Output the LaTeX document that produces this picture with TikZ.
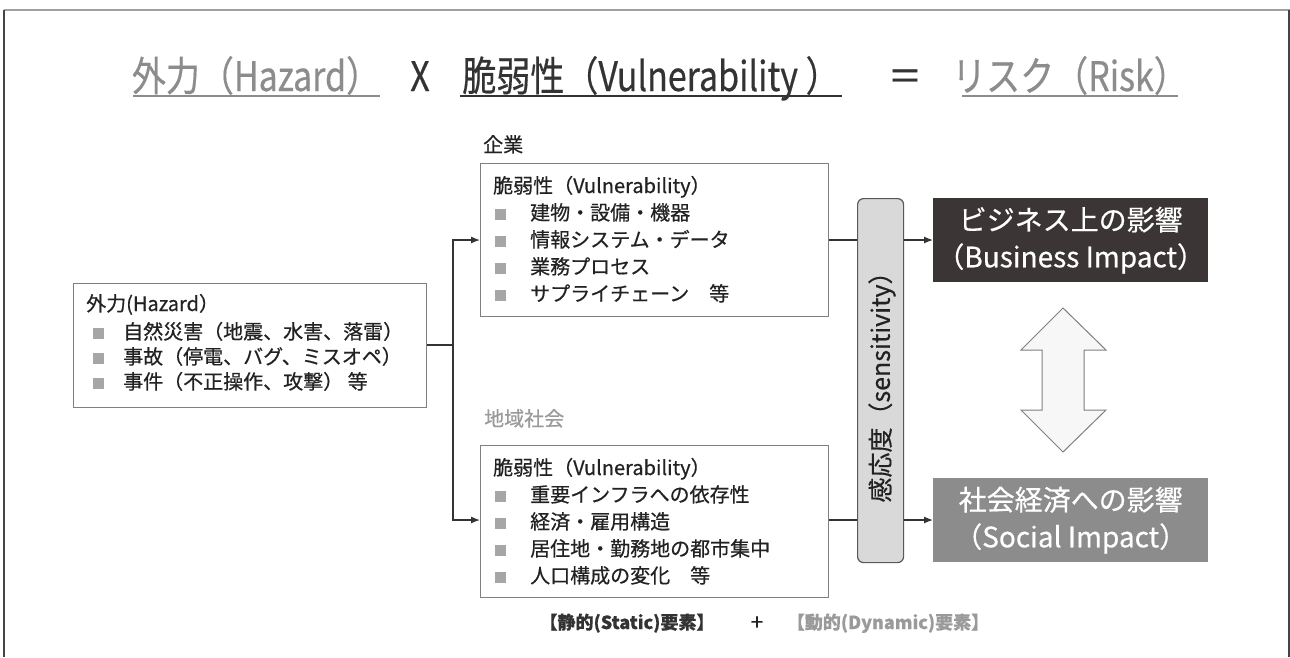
\documentclass[tikz,border=0pt]{standalone}
\usepackage{fontspec}
\setmainfont{Noto Sans CJK JP}[RawFeature={embolden=0.5}]
\usetikzlibrary{arrows.meta}
\definecolor{framegray}{HTML}{A0A0A0}
\definecolor{framedark}{HTML}{444444}
\definecolor{titlegray}{HTML}{8C8C8C}
\definecolor{titledark}{HTML}{333333}
\definecolor{linecol}{HTML}{333333}
\definecolor{boxborder}{HTML}{808080}
\definecolor{bulcol}{HTML}{A6A6A6}
\definecolor{txtcol}{HTML}{222222}
\definecolor{sensfill}{HTML}{D9D9D9}
\definecolor{sensborder}{HTML}{595959}
\definecolor{bizfill}{HTML}{3B3535}
\definecolor{socfill}{HTML}{8C8C8C}
\definecolor{arrfill}{HTML}{F7F7F7}
\definecolor{arrborder}{HTML}{7F7F7F}
\definecolor{lblgray}{HTML}{9A9A9A}
\newcommand\sqa{\makebox[30pt][l]{\textcolor{bulcol}{\rule[0.5pt]{11pt}{11pt}}}}
\newcommand\sqb{\makebox[35pt][l]{\textcolor{bulcol}{\rule[0.5pt]{11pt}{11pt}}}}
\newcommand\tall[1]{\scalebox{1}[1.2]{#1}}
\begin{document}
\begin{tikzpicture}[x=1pt,y=-1pt,
  boxst/.style={draw=boxborder, line width=1pt, fill=white, inner sep=0pt},
  txt/.style={anchor=base west, inner sep=0pt, text=txtcol, font=\fontsize{20}{24}\selectfont},
  ttl/.style={anchor=base, inner sep=0pt, font=\fontsize{34}{40}\selectfont},
  conn/.style={draw=linecol, line width=1.2pt},
  arr/.style={conn, -{Latex[length=9pt,width=7pt]}},
  impact/.style={inner sep=0pt, minimum width=275pt, minimum height=84pt, anchor=north west, text=white, align=center, font=\fontsize{28}{37}\selectfont},
  bottom/.style={anchor=base, inner sep=0pt, font=\fontsize{18}{20}\selectfont\bfseries}
]
\useasboundingbox (0,0) rectangle (1290,657);
% frame
\draw[framegray, line width=2pt] (4,10) -- (1290,10);
\draw[framedark, line width=1.5pt] (4,10) -- (4,657);
\draw[framedark, line width=1.5pt] (1289,10) -- (1289,657);

% title
\node[ttl, text=titlegray] (t1) at (256,91) {\tall{外力（Hazard）}};
\node[ttl, text=titledark] (tx) at (420,91) {\tall{X}};
\node[ttl, text=titledark] (t2) at (651,91) {\tall{脆弱性（Vulnerability ）}};
\node[ttl, text=titledark] (teq) at (905,91) {\tall{＝}};
\node[ttl, text=titlegray] (t3) at (1070,91) {\tall{リスク（Risk）}};
\draw[titlegray, line width=2pt] (133,96) -- (380,96);
\draw[titledark, line width=2pt] (460,96) -- (842,96);
\draw[titlegray, line width=2pt] (962,96) -- (1178,96);

% hazard box
\node[boxst, minimum width=353pt, minimum height=124pt, anchor=north west] (haz) at (73,283) {};
\node[txt] (h0) at (86,311) {外力(Hazard）};
\node[txt] (h1) at (93,339) {\sqa 自然災害（地震、水害、落雷）};
\node[txt] (h2) at (93,364) {\sqa 事故（停電、バグ、ミスオペ）};
\node[txt] (h3) at (93,389) {\sqa 事件（不正操作、攻撃） 等};

% company box
\node[txt] (kig) at (483,152) {企業};
\node[boxst, minimum width=348pt, minimum height=153pt, anchor=north west] (comp) at (480,163) {};
\node[txt] (c0) at (493,193) {脆弱性（Vulnerability）};
\node[txt] (c1) at (495,220) {\sqb 建物・設備・機器};
\node[txt] (c2) at (495,247) {\sqb 情報システム・データ};
\node[txt] (c3) at (495,274) {\sqb 業務プロセス};
\node[txt] (c4) at (495,301) {\sqb サプライチェーン\hspace{1em}等};

% community box
\node[txt, text=lblgray] (chi) at (484,426) {地域社会};
\node[boxst, minimum width=348pt, minimum height=152pt, anchor=north west] (soc) at (480,445) {};
\node[txt] (s0) at (493,475) {脆弱性（Vulnerability）};
\node[txt] (s1) at (495,502) {\sqb 重要インフラへの依存性};
\node[txt] (s2) at (495,529) {\sqb 経済・雇用構造};
\node[txt] (s3) at (495,556) {\sqb 居住地・勤務地の都市集中};
\node[txt] (s4) at (495,583) {\sqb 人口構成の変化\hspace{1em}等};

% sensitivity
\node[draw=sensborder, line width=1.2pt, fill=sensfill, rounded corners=6pt, minimum width=46pt, minimum height=364pt, anchor=north west, inner sep=0pt] (sens) at (857,198) {};
\node[rotate=90, inner sep=0pt, text=txtcol, font=\fontsize{25}{28}\selectfont] (senst) at (882,381) {感応度（sensitivity）};

% impacts
\node[impact, fill=bizfill] (biz) at (933,198) {ビジネス上の影響\\（Business Impact）};
\node[impact, fill=socfill] (sim) at (933,478) {社会経済への影響\\（Social Impact）};

% double arrow
\draw[draw=arrborder, fill=arrfill, line width=1pt] (1063,308) -- (1106,350) -- (1084,350) -- (1084,410) -- (1106,410) -- (1063,452) -- (1021,410) -- (1042,410) -- (1042,350) -- (1021,350) -- cycle;

% connectors
\coordinate (jn) at (453,345);
\draw[conn] (haz.east |- jn) -- (jn);
\draw[arr] (jn) |- (comp.west |- 0,240);
\draw[arr] (jn) |- (soc.west |- 0,520);
\draw[conn] (comp.east |- 0,240) -- (sens.west |- 0,240);
\draw[conn] (soc.east |- 0,520) -- (sens.west |- 0,520);
\draw[arr] (sens.east |- 0,240) -- (biz.west |- 0,240);
\draw[arr] (sens.east |- 0,520) -- (sim.west |- 0,520);

% bottom labels
\node[bottom, text=titledark] (stat) at (627,629) {【静的(Static)要素】};
\node[anchor=base, inner sep=0pt, font=\fontsize{22}{24}\selectfont, text=txtcol] (plus) at (757,630) {+};
\node[bottom, text=lblgray] (dyn) at (888,629) {【動的(Dynamic)要素】};
\end{tikzpicture}
\end{document}
